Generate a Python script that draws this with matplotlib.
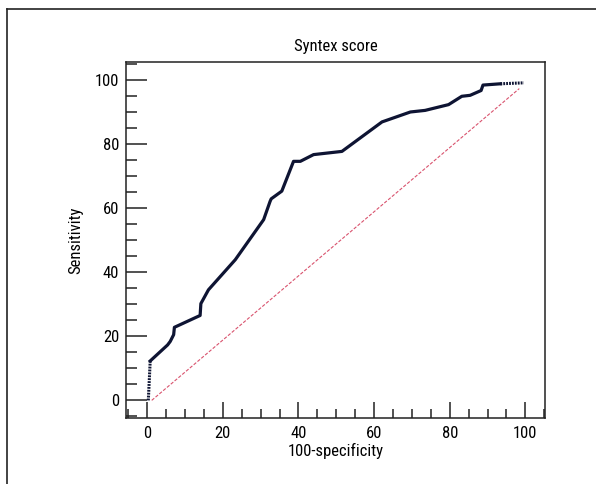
import matplotlib
matplotlib.use("Agg")
import matplotlib.pyplot as plt
from matplotlib import font_manager
from matplotlib.lines import Line2D
from matplotlib.ticker import MultipleLocator

# ---- data ----
roc_x = [0.8, 5.4, 6.1, 7.0, 7.2, 14.0, 14.2, 16.2, 23.3, 30.8, 32.5, 32.8, 35.6,
         38.7, 40.5, 44.0, 51.5, 62.1, 69.6, 73.5, 79.7, 83.2, 85.4, 88.3, 88.8, 93.4]
roc_y = [12.3, 17.3, 18.4, 20.5, 22.8, 26.5, 30.2, 34.5, 43.9, 56.4, 62.1, 62.9, 65.3,
         74.6, 74.6, 76.7, 77.7, 86.9, 90.0, 90.5, 92.3, 94.9, 95.2, 96.7, 98.4, 98.8]
start_x = [0.3, 0.8]
start_y = [0.0, 12.3]
end_x = [93.4, 99.6]
end_y = [98.8, 99.1]
diag_x = [1.2, 98.4]
diag_y = [0.0, 97.3]
xticks = [0, 20, 40, 60, 80, 100]
yticks = [0, 20, 40, 60, 80, 100]

# ---- font ----
chosen = "DejaVu Sans"
for fam in ["Liberation Sans Narrow", "DejaVu Sans Condensed", "Roboto Condensed", "Open Sans Condensed"]:
    try:
        font_manager.findfont(font_manager.FontProperties(family=fam), fallback_to_default=False)
        chosen = fam
        break
    except Exception:
        pass
print("font:", chosen)
plt.rcParams['font.family'] = [chosen, 'DejaVu Sans']
fs = 12

W, H = 596, 484
fig = plt.figure(figsize=(W / 100, H / 100), dpi=100)
fig.patch.set_facecolor("white")

# outer frame (top and left lines)
fx = 7.5 / W
fy = 1 - 9 / H
fig.add_artist(Line2D([fx, 1.0], [fy, fy], transform=fig.transFigure, color="#222222", lw=1.2))
fig.add_artist(Line2D([fx, fx], [0.0, fy], transform=fig.transFigure, color="#222222", lw=1.2))

left, right, top, bottom = 126, 545, 62, 418
ax = fig.add_axes([left / W, 1 - bottom / H, (right - left) / W, (bottom - top) / H])
ax.set_xlim(-5.6, 105.2)
ax.set_ylim(-5.5, 105.6)

line_col = "#0e1433"
ax.plot(roc_x, roc_y, color=line_col, lw=2.3, solid_joinstyle="round", zorder=3)
ax.plot(start_x, start_y, color=line_col, lw=2.2, linestyle=(0, (0.6, 0.35)), zorder=3)
ax.plot(end_x, end_y, color=line_col, lw=2.2, linestyle=(0, (0.6, 0.35)), zorder=3)
ax.plot(diag_x, diag_y, color="#d9536e", lw=0.8, linestyle=(0, (3, 1.5)), zorder=2)

for s in ax.spines.values():
    s.set_linewidth(1.1)
    s.set_color("#222222")

ax.set_xticks(xticks)
ax.set_yticks(yticks)
ax.xaxis.set_minor_locator(MultipleLocator(5))
ax.yaxis.set_minor_locator(MultipleLocator(5))
ax.tick_params(axis="y", which="major", direction="in", length=15, width=1.1, pad=5,
               labelsize=fs, color="#222222", right=False)
ax.tick_params(axis="y", which="minor", direction="in", length=8, width=1.1, right=False,
               color="#222222")
ax.tick_params(axis="x", which="major", direction="in", length=11.5, width=1.1, pad=6,
               labelsize=fs, color="#222222", top=False)
ax.tick_params(axis="x", which="minor", direction="in", length=6.5, width=1.1, top=False,
               color="#222222")

ax.set_xlabel("100-specificity", fontsize=fs, labelpad=1)
ax.set_ylabel("Sensitivity", fontsize=fs, labelpad=8)
ax.set_title("Syntex score", fontsize=fs, pad=8)

fig.savefig("out.png", dpi=100)
